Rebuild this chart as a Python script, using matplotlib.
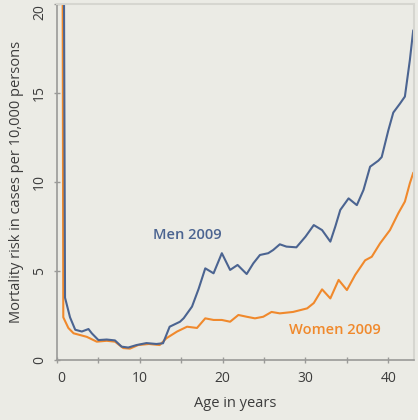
import numpy as np
import matplotlib
matplotlib.use("Agg")
import matplotlib.pyplot as plt

# values (age position, cases per 10,000)
men_age = [0.7, 0.97, 1.57, 2.2, 3.0, 3.8, 4.2, 5.0, 6.0, 7.0, 7.8, 8.6, 9.6, 10.8, 12.0,
           12.8, 13.6, 14.85, 15.3, 16.3, 17.1, 17.9, 18.9, 19.9, 20.9, 21.8, 22.9, 23.7,
           24.5, 25.5, 26.1, 26.9, 27.7, 28.9, 30.0, 31.0, 32.0, 33.0, 33.6, 34.2, 35.2,
           36.2, 37.0, 37.8, 38.8, 39.2, 40.0, 40.6, 41.4, 42.0, 42.6, 43.0]
men_risk = [40.0, 3.5, 2.4, 1.7, 1.6, 1.74, 1.5, 1.12, 1.15, 1.1, 0.75, 0.7, 0.84, 0.95, 0.9,
            0.94, 1.87, 2.15, 2.35, 3.0, 4.0, 5.15, 4.87, 6.0, 5.06, 5.34, 4.83, 5.43,
            5.9, 6.0, 6.18, 6.5, 6.37, 6.33, 6.93, 7.58, 7.3, 6.65, 7.5, 8.43, 9.08,
            8.7, 9.55, 10.86, 11.2, 11.4, 12.9, 13.9, 14.4, 14.8, 16.85, 18.5]

women_age = [0.6, 0.76, 1.37, 2.0, 2.8, 3.6, 4.8, 6.0, 7.0, 8.0, 8.8, 9.8, 11.1, 12.4,
             13.2, 14.5, 15.7, 16.9, 17.9, 18.9, 19.9, 20.9, 21.9, 22.9, 23.9, 24.9,
             25.9, 26.9, 28.5, 30.2, 31.0, 32.0, 33.0, 34.0, 35.0, 36.0, 37.2, 38.0,
             39.0, 40.2, 41.2, 42.0, 42.6, 43.0]
women_risk = [40.0, 2.4, 1.8, 1.5, 1.4, 1.3, 1.03, 1.08, 1.03, 0.67, 0.64, 0.84, 0.9, 0.84,
              1.22, 1.6, 1.87, 1.8, 2.34, 2.25, 2.25, 2.15, 2.53, 2.43, 2.34, 2.43,
              2.7, 2.62, 2.7, 2.9, 3.2, 3.97, 3.46, 4.5, 3.93, 4.78, 5.6, 5.8,
              6.55, 7.3, 8.24, 8.9, 9.93, 10.5]

bg = "#ebebe5"
men_col = "#4b6491"
women_col = "#f0892c"
txt_col = "#3c3c3c"

plt.rcParams["font.family"] = ["Open Sans", "DejaVu Sans"]

fig = plt.figure(figsize=(4.18, 4.20), dpi=100, facecolor=bg)
ax = fig.add_axes([57 / 418, 60 / 420, 357 / 418, 356 / 420], facecolor=bg)

ax.plot(women_age, women_risk, color=women_col, lw=1.5, solid_joinstyle="round")
ax.plot(men_age, men_risk, color=men_col, lw=1.5, solid_joinstyle="round")

ax.set_xlim(0, 43.1)
ax.set_ylim(0, 20)
ax.set_xticks([0, 10, 20, 30, 40])
ax.set_xticks([5, 15, 25, 35], minor=True)
ax.set_yticks([0, 5, 10, 15, 20])

for s in ["left", "bottom"]:
    ax.spines[s].set_color("#9a9a98")
    ax.spines[s].set_linewidth(1.2)
for s in ["top", "right"]:
    ax.spines[s].set_color("#d6d6d0")
    ax.spines[s].set_linewidth(1.5)

ax.tick_params(axis="both", which="both", direction="inout", length=4, width=1,
               color="#9a9a98", labelcolor=txt_col, labelsize=10)
ax.tick_params(axis="x", pad=6)
ax.tick_params(axis="y", pad=5)
ylabs = ax.get_yticklabels()
for lab in ylabs:
    lab.set_rotation(90)
    lab.set_va("center")
# top label would run off the figure, hang it below the top edge
ylabs[-1].set_va("top")

xlabs = ax.get_xticklabels()
xlabs[0].set_ha("left")

ax.set_xlabel("Age in years", fontsize=10.5, color=txt_col, labelpad=7)
ax.set_ylabel("Mortality risk in cases per 10,000 persons", fontsize=10.5,
              color=txt_col, labelpad=6)

ax.text(15.7, 7.0, "Men 2009", color=men_col, fontsize=10.5, fontweight="semibold",
        ha="center", va="center")
ax.text(33.6, 1.7, "Women 2009", color=women_col, fontsize=10.5, fontweight="semibold",
        ha="center", va="center")

fig.savefig("out.png", dpi=100, facecolor=bg)
